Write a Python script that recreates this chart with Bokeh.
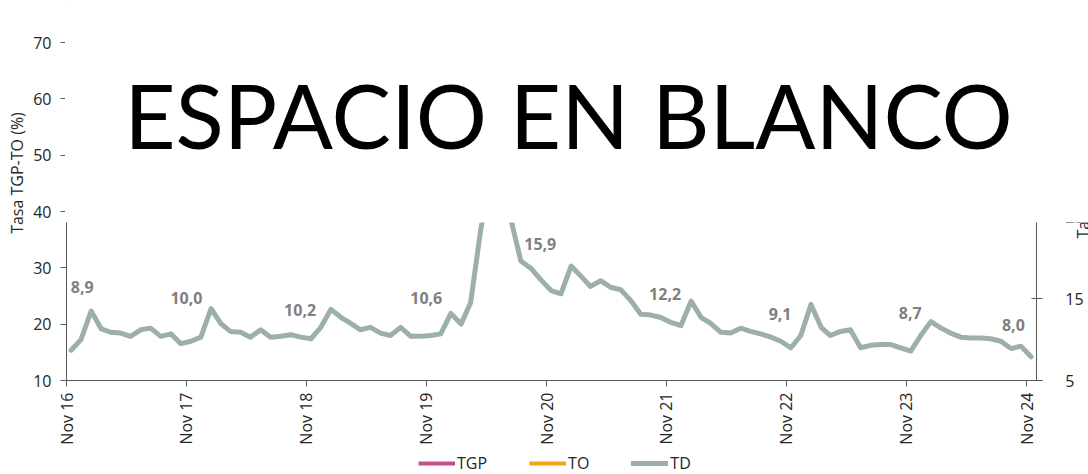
import math
import pandas as pd
from bokeh.plotting import figure
from bokeh.models import (Range1d, LinearAxis, FixedTicker, DatetimeTickFormatter,
                          BoxAnnotation, Label, Legend, LegendItem, ColumnDataSource)
from bokeh.core.properties import value
from bokeh.embed import file_html
from bokeh.resources import INLINE

# ---------------- data ----------------
start_month = "2016-11-01"
# TD (%), monthly moving quarter, Nov 2016 .. Nov 2024 (values 42-44 are hidden behind the blank box)
td = [
    8.7, 10.0, 13.5, 11.3, 10.9, 10.8, 10.4, 11.2, 11.4, 10.4, 10.7, 9.5,
    9.8, 10.3, 13.8, 11.9, 11.0, 10.9, 10.3, 11.2, 10.3, 10.4, 10.6, 10.3,
    10.1, 11.5, 13.7, 12.7, 12.0, 11.2, 11.5, 10.8, 10.5, 11.5, 10.4, 10.4,
    10.5, 10.7, 13.2, 11.9, 14.5, 23.5, 30.0, 32.0, 24.8, 19.6, 18.7, 17.3,
    16.0, 15.6, 19.0, 17.7, 16.5, 17.2, 16.4, 16.1, 14.8, 13.1, 13.0, 12.7,
    12.1, 11.7, 14.7, 12.7, 12.0, 10.9, 10.8, 11.4, 11.0, 10.7, 10.3, 9.8,
    9.0, 10.5, 14.3, 11.5, 10.5, 11.0, 11.2, 9.0, 9.3, 9.4, 9.4, 9.0,
    8.6, 10.5, 12.2, 11.4, 10.8, 10.3, 10.2, 10.2, 10.1, 9.8, 8.9, 9.2,
    7.9,
]
# TGP and TO lie entirely behind the blank box: their values cannot be read
tgp = [float("nan")]
to = [float("nan")]

label_values = [8.9, 10.0, 10.2, 10.6, 15.9, 12.2, 9.1, 8.7, 8.0]
label_dates = ["2016-12-19", "2017-11-01", "2018-10-13", "2019-11-01", "2020-10-13",
               "2021-10-28", "2022-10-13", "2023-11-13", "2024-09-22"]
label_heights = [16.4, 15.06, 13.6, 15.06, 21.7, 15.55, 13.1, 13.2, 11.75]

x_tick_dates = ["2016-11-01", "2017-11-01", "2018-11-01", "2019-11-01", "2020-11-01",
                "2021-11-01", "2022-11-01", "2023-11-01", "2024-11-01"]
left_ticks_low = [10, 20, 30]
left_ticks_high = [40, 50, 60, 70]
right_ticks = [5, 15, 25, 35, 45]

series_names = ["TGP", "TO", "TD"]
series_colors = ["#C4508B", "#F5A31A", "#9DAFA9"]

# ---------------- layout geometry (pixels) ----------------
W, H = 1088, 474
PX_ORIGIN = 66            # x pixel of Nov 2016
DAYS_PER_PX = 365.25 / 120
Y_BASE_PX = 380           # pixel of the x axis
L_PX_PER_UNIT = 338 / 60  # left axis scale
R_PX_PER_UNIT = 8.18      # right axis scale
BOX_BOTTOM_PX = 222

origin = pd.Timestamp(start_month)
def px_to_date(px):
    return origin + pd.Timedelta(days=(px - PX_ORIGIN) * DAYS_PER_PX)
def ms(ts):
    return ts.value / 1e6

x_range = Range1d(px_to_date(0), px_to_date(W))
y_range = Range1d(10 - (H - Y_BASE_PX) / L_PX_PER_UNIT, 10 + Y_BASE_PX / L_PX_PER_UNIT)
r_range = Range1d(5 - (H - Y_BASE_PX) / R_PX_PER_UNIT, 5 + Y_BASE_PX / R_PX_PER_UNIT)

FONT = "Open Sans"
TXT = "#262626"
AX = "#595959"

p = figure(width=W, height=H, x_axis_type="datetime", x_range=x_range, y_range=y_range,
           output_backend="svg", toolbar_location=None,
           min_border_left=0, min_border_right=0, min_border_top=0, min_border_bottom=0)
p.extra_y_ranges = {"td": r_range}
p.grid.visible = False
p.outline_line_color = None
p.background_fill_color = "white"
p.border_fill_color = "white"

x_axis_date = ms(origin)
x_right_date = ms(pd.Timestamp("2024-12-01"))

# left axes: lower ticks with the axis line, upper ticks with the title
ya1 = p.yaxis[0]
ya1.fixed_location = x_axis_date
ya1.ticker = FixedTicker(ticks=left_ticks_low)
ya1.bounds = (10, y_range.end)

ya2 = LinearAxis(ticker=FixedTicker(ticks=left_ticks_high), fixed_location=x_axis_date,
                 axis_label="Tasa TGP-TO (%)", bounds=(16.8, 77.0), axis_line_color=None)
p.add_layout(ya2, "left")

# right axis
ra = LinearAxis(y_range_name="td", ticker=FixedTicker(ticks=right_ticks),
                fixed_location=x_right_date, axis_label="Tasa TD (%)", bounds=(5, 39.7))
p.add_layout(ra, "right")

# x axis
xa = p.xaxis[0]
xa.fixed_location = 10
xa.bounds = (x_axis_date, ms(px_to_date(1042)))
xa.ticker = FixedTicker(ticks=[ms(pd.Timestamp(d)) for d in x_tick_dates])
fmt = "%b %y"
xa.formatter = DatetimeTickFormatter(years=fmt, months=fmt, days=fmt, hours=fmt,
                                     minutes=fmt, seconds=fmt, milliseconds=fmt)
xa.major_label_orientation = math.pi / 2

for ax in [xa, ya1, ya2, ra]:
    if ax is not ya2:
        ax.axis_line_color = AX
    ax.major_tick_line_color = AX
    ax.minor_tick_line_color = None
    ax.major_tick_out = 6
    ax.major_tick_in = 0
    ax.major_label_text_font = FONT
    ax.major_label_text_font_size = "16px"
    ax.major_label_text_color = TXT
    ax.axis_label_text_font = FONT
    ax.axis_label_text_font_size = "16px"
    ax.axis_label_text_font_style = "normal"
    ax.axis_label_text_color = TXT
ya1.major_label_standoff = 9
ya2.major_label_standoff = 9
ya2.axis_label_standoff = 2
ra.major_tick_in = 5
ra.major_label_standoff = 23
ra.axis_label_standoff = -4
ra.axis_label_orientation = math.pi / 2
xa.major_label_standoff = 6

# series
dates = pd.date_range(start_month, periods=len(td), freq="MS") + pd.Timedelta(days=14)
src_td = ColumnDataSource(dict(x=dates, y=td))
src_tgp = ColumnDataSource(dict(x=[origin] * len(tgp), y=tgp))
src_to = ColumnDataSource(dict(x=[origin] * len(to), y=to))
r_tgp = p.line("x", "y", source=src_tgp, line_color=series_colors[0], line_width=4)
r_to = p.line("x", "y", source=src_to, line_color=series_colors[1], line_width=4)
r_td = p.line("x", "y", source=src_td, y_range_name="td", line_color=series_colors[2],
              line_width=5, line_join="round", line_cap="round")

# value labels
src_lab = ColumnDataSource(dict(
    x=pd.to_datetime(label_dates), y=label_heights,
    t=[f"{v:.1f}".replace(".", ",") for v in label_values]))
p.text("x", "y", text="t", source=src_lab, y_range_name="td",
       text_font=value(FONT), text_font_style="bold", text_font_size="16px",
       text_color="#7F7F7F", text_align="center", text_baseline="middle")

# blank box covering the top of the chart
cover = BoxAnnotation(left=ms(px_to_date(64.5)), right=ms(px_to_date(W + 50)),
                      bottom=10 + (Y_BASE_PX - BOX_BOTTOM_PX) / L_PX_PER_UNIT,
                      top=y_range.end + 20, fill_color="white", fill_alpha=1.0,
                      line_color=None, level="annotation")
p.add_layout(cover)

blank = Label(x=ms(px_to_date(568)), y=57.2, text="ESPACIO EN BLANCO",
              text_font="Lato", text_font_size="89px", text_color="black",
              text_align="center", text_baseline="alphabetic", level="overlay")
p.add_layout(blank)

legend = Legend(items=[LegendItem(label=series_names[0], renderers=[r_tgp]),
                       LegendItem(label=series_names[1], renderers=[r_to]),
                       LegendItem(label=series_names[2], renderers=[r_td])],
                orientation="horizontal", location=(418, 0),
                glyph_width=37, glyph_height=18, label_height=18, label_standoff=2,
                spacing=42, padding=0, margin=0,
                border_line_color=None, background_fill_alpha=0,
                label_text_font=FONT, label_text_font_size="16px", label_text_color=TXT)
p.add_layout(legend, "center")

open("out.html", "w").write(file_html(p, INLINE))
